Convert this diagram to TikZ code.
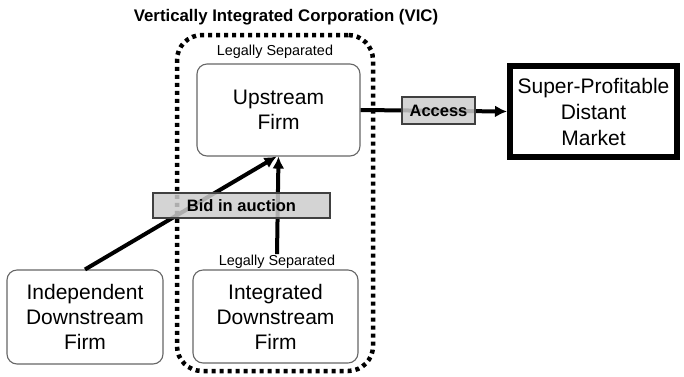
\documentclass[tikz,border=0pt]{standalone}
\usepackage{fontspec}
\setmainfont{Liberation Sans}
\usetikzlibrary{arrows.meta}
\begin{document}
\begin{tikzpicture}[x=1pt,y=-1pt,
  firm/.style={draw=black!60, line width=1.1pt, rounded corners=10pt, align=center, inner sep=0pt,
    font=\fontsize{21}{25}\selectfont},
  lbl/.style={font=\fontsize{14.4}{16}\selectfont, inner sep=1pt},
  tag/.style={draw=black!75, line width=1.6pt, fill=black!20, fill opacity=0.85, text opacity=1,
    inner sep=0pt, font=\bfseries\fontsize{16.5}{18}\selectfont},
  arr/.style={line width=4pt, -{Latex[length=12pt,width=12pt]}},
]
\useasboundingbox (0,0) rectangle (684,376);
\node[font=\bfseries\fontsize{16.8}{18}\selectfont] (title) at (286,17) {Vertically Integrated Corporation (VIC)};
\node[draw=black, line width=4.5pt, dash pattern=on 4pt off 4pt, rounded corners=25pt,
  minimum width=196, minimum height=336, inner sep=0pt] (vic) at (275,203) {};
\node[firm, minimum width=163, minimum height=92] (up) at (278.5,110) {Upstream\\Firm};
\node[lbl] (ls1) at (275,52) {Legally Separated};
\node[firm, minimum width=165, minimum height=93] (integ) at (275.5,316.5) {Integrated\\Downstream\\Firm};
\node[lbl] (ls2) at (277,262) {Legally Separated};
\node[firm, minimum width=156, minimum height=94] (ind) at (85,317) {Independent\\Downstream\\Firm};
\node[draw=black, line width=6pt, minimum width=167, minimum height=91, align=center, inner sep=0pt,
  font=\fontsize{21}{26}\selectfont] (mkt) at (593.5,111.5) {Super-Profitable\\Distant\\Market};
\draw[arr] (up.east) -- (mkt.west);
\node[tag, minimum width=73, minimum height=27] (acc) at (438.5,110.5) {Access};
\draw[arr] (ind.north) -- ([xshift=-2pt]up.south);
\draw[arr] (ls2.north) -- (up.south);
\node[tag, minimum width=177, minimum height=25] (bid) at (241.5,205.5) {Bid in auction};
\end{tikzpicture}
\end{document}
